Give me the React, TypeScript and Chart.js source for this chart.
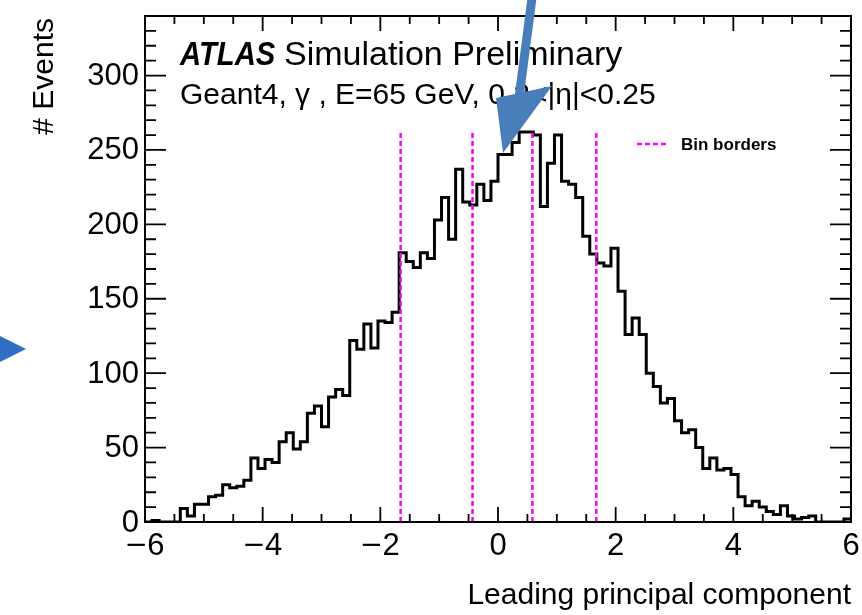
import React, { useEffect, useRef } from "react";
import { Chart, registerables } from "chart.js";

Chart.register(...registerables);

// Histogram binning
const X_MIN = -6;
const X_MAX = 6;
const BIN_WIDTH = 0.12;
const Y_MAX = 340;

// Events per bin of the leading principal component
const counts = [
  0, 1, 0, 0, 0, 9, 4, 12, 12, 17,
  18, 25, 23, 24, 28, 43, 36, 42, 40, 54,
  60, 49, 54, 73, 78, 64, 84, 89, 85, 122,
  116, 133, 117, 135, 134, 141, 181, 175, 171, 181,
  177, 203, 218, 190, 237, 215, 213, 227, 216, 229,
  247, 247, 255, 262, 262, 260, 212, 241, 260, 229,
  227, 218, 192, 180, 174, 172, 184, 155, 126, 137,
  126, 100, 91, 80, 83, 68, 60, 62, 50, 36,
  43, 35, 36, 32, 17, 11, 14, 10, 7, 5,
  11, 4, 2, 3, 4, 0, 0, 0, 0, 2,
];

// Bin borders of the principal-component categories
const binBorders = [-1.655, -0.433, 0.585, 1.671];
const borderLineTop = 263;

// Axis ticks
const xMajorTicks = [-6, -4, -2, 0, 2, 4, 6];
const xTickLabels = ["\u22126", "\u22124", "\u22122", "0", "2", "4", "6"];
const yMajorTicks = [0, 50, 100, 150, 200, 250, 300];
const yTickLabels = ["0", "50", "100", "150", "200", "250", "300"];
const X_MINOR_STEP = 0.5;
const Y_MINOR_STEP = 10;

const FONT = '"Liberation Sans", Arial, Helvetica, sans-serif';

function histogramPoints() {
  const pts: { x: number; y: number }[] = [];
  counts.forEach((c, i) => pts.push({ x: X_MIN + i * BIN_WIDTH, y: c }));
  pts.push({ x: X_MAX, y: counts[counts.length - 1] });
  return pts;
}

function borderLines() {
  return binBorders.map((b) => ({
    type: "line" as const,
    label: "Bin borders",
    data: [
      { x: b, y: 0 },
      { x: b, y: borderLineTop },
    ],
    borderColor: "#ff00ff",
    borderWidth: 2.5,
    borderDash: [5, 3],
    pointRadius: 0,
    fill: false,
    order: 0,
  }));
}

// text drawn with an optional horizontal squeeze
function drawText(ctx: CanvasRenderingContext2D, text: string, x: number, y: number, sx = 1) {
  ctx.save();
  ctx.translate(x, y);
  ctx.scale(sx, 1);
  ctx.fillText(text, 0, 0);
  ctx.restore();
}

// centred tick label with a slightly wider minus sign
function drawTickLabel(ctx: CanvasRenderingContext2D, label: string, cx: number, y: number) {
  ctx.save();
  ctx.textAlign = "left";
  const neg = label.startsWith("\u2212");
  const body = neg ? label.slice(1) : label;
  const bodyW = ctx.measureText(body).width;
  const minusW = neg ? ctx.measureText("\u2212").width * 1.15 : 0;
  const gap = neg ? 1 : 0;
  let x = cx - (minusW + gap + bodyW) / 2;
  if (neg) {
    drawText(ctx, "\u2212", x, y, 1.15);
    x += minusW + gap;
  }
  ctx.fillText(body, x, y);
  ctx.restore();
}

const rootStyle = {
  id: "rootStyle",
  afterDraw(chart: any) {
    const { ctx, chartArea: a, scales } = chart;
    const xs = scales.x;
    const ys = scales.y;
    ctx.save();
    ctx.strokeStyle = "#000";
    ctx.fillStyle = "#000";

    // frame
    ctx.lineWidth = 2;
    ctx.strokeRect(a.left, a.top, a.right - a.left, a.bottom - a.top);

    // ticks
    ctx.lineWidth = 1.8;
    ctx.beginPath();
    for (let v = X_MIN; v <= X_MAX + 1e-9; v += X_MINOR_STEP) {
      const px = xs.getPixelForValue(v);
      const major = xMajorTicks.some((t) => Math.abs(t - v) < 1e-6);
      const len = major ? 15 : 8;
      ctx.moveTo(px, a.bottom);
      ctx.lineTo(px, a.bottom - len);
      ctx.moveTo(px, a.top);
      ctx.lineTo(px, a.top + len);
    }
    for (let v = 0; v <= Y_MAX + 1e-9; v += Y_MINOR_STEP) {
      const py = ys.getPixelForValue(v);
      const major = yMajorTicks.some((t) => Math.abs(t - v) < 1e-6);
      const len = major ? 21 : 11;
      ctx.moveTo(a.left, py);
      ctx.lineTo(a.left + len, py);
      ctx.moveTo(a.right, py);
      ctx.lineTo(a.right - len, py);
    }
    ctx.stroke();

    // tick labels
    ctx.font = `31px ${FONT}`;
    ctx.textBaseline = "alphabetic";
    xMajorTicks.forEach((v, i) => {
      drawTickLabel(ctx, xTickLabels[i], xs.getPixelForValue(v), a.bottom + 33);
    });
    ctx.textAlign = "right";
    ctx.textBaseline = "middle";
    yMajorTicks.forEach((v, i) => {
      ctx.fillText(yTickLabels[i], a.left - 6, ys.getPixelForValue(v) + 1);
    });

    // axis titles
    ctx.font = `30px ${FONT}`;
    ctx.textAlign = "right";
    ctx.textBaseline = "alphabetic";
    ctx.fillText("Leading principal component", a.right, 604);
    ctx.save();
    ctx.translate(53, 18);
    ctx.rotate(-Math.PI / 2);
    ctx.textAlign = "right";
    ctx.fillText("# Events", 0, 0);
    ctx.restore();

    // experiment label
    ctx.textAlign = "left";
    ctx.font = `italic bold 34px ${FONT}`;
    drawText(ctx, "ATLAS", 180, 65, 0.86);
    ctx.font = `34px ${FONT}`;
    drawText(ctx, "Simulation Preliminary", 284, 65, 1);
    ctx.font = `30px ${FONT}`;
    drawText(ctx, "Geant4, \u03b3 , E=65 GeV, 0.2<|\u03b7|<0.25", 180, 104, 1);

    // legend
    ctx.strokeStyle = "#ff00ff";
    ctx.lineWidth = 2.5;
    ctx.setLineDash([5, 3]);
    ctx.beginPath();
    ctx.moveTo(637, 144);
    ctx.lineTo(669, 144);
    ctx.stroke();
    ctx.setLineDash([]);
    ctx.font = `bold 17px ${FONT}`;
    ctx.textBaseline = "middle";
    ctx.fillText("Bin borders", 681, 145);

    // callout markers
    ctx.fillStyle = "#4a7ebb";
    ctx.strokeStyle = "#4a7ebb";
    ctx.lineWidth = 9;
    ctx.beginPath();
    ctx.moveTo(532, -2);
    ctx.lineTo(519, 98);
    ctx.stroke();
    ctx.beginPath();
    ctx.moveTo(496, 98);
    ctx.lineTo(552, 86);
    ctx.lineTo(503, 153);
    ctx.closePath();
    ctx.fill();
    ctx.fillStyle = "#2f6fc4";
    ctx.beginPath();
    ctx.moveTo(0, 336);
    ctx.lineTo(26, 349);
    ctx.lineTo(0, 362);
    ctx.closePath();
    ctx.fill();

    ctx.restore();
  },
};

export default function App() {
  const ref = useRef<HTMLCanvasElement | null>(null);
  useEffect(() => {
    if (!ref.current) return;
    const chart = new Chart(ref.current, {
      type: "line",
      data: {
        datasets: [
          {
            label: "Events",
            data: histogramPoints(),
            borderColor: "#000",
            borderWidth: 3,
            stepped: true,
            pointRadius: 0,
            fill: false,
            order: 1,
          },
          ...borderLines(),
        ] as any,
      },
      options: {
        responsive: false,
        animation: false,
        layout: { padding: { left: 145, right: 11, top: 16, bottom: 93 } },
        plugins: { legend: { display: false }, tooltip: { enabled: false } },
        scales: {
          x: { type: "linear", min: X_MIN, max: X_MAX, display: false },
          y: { type: "linear", min: 0, max: Y_MAX, display: false },
        },
      },
      plugins: [rootStyle],
    });
    return () => chart.destroy();
  }, []);
  return (
    <div style={{ position: "fixed", left: 0, top: 0, width: 862, height: 615, background: "#fff" }}>
      <canvas ref={ref} width={862} height={615} style={{ display: "block" }} />
    </div>
  );
}
